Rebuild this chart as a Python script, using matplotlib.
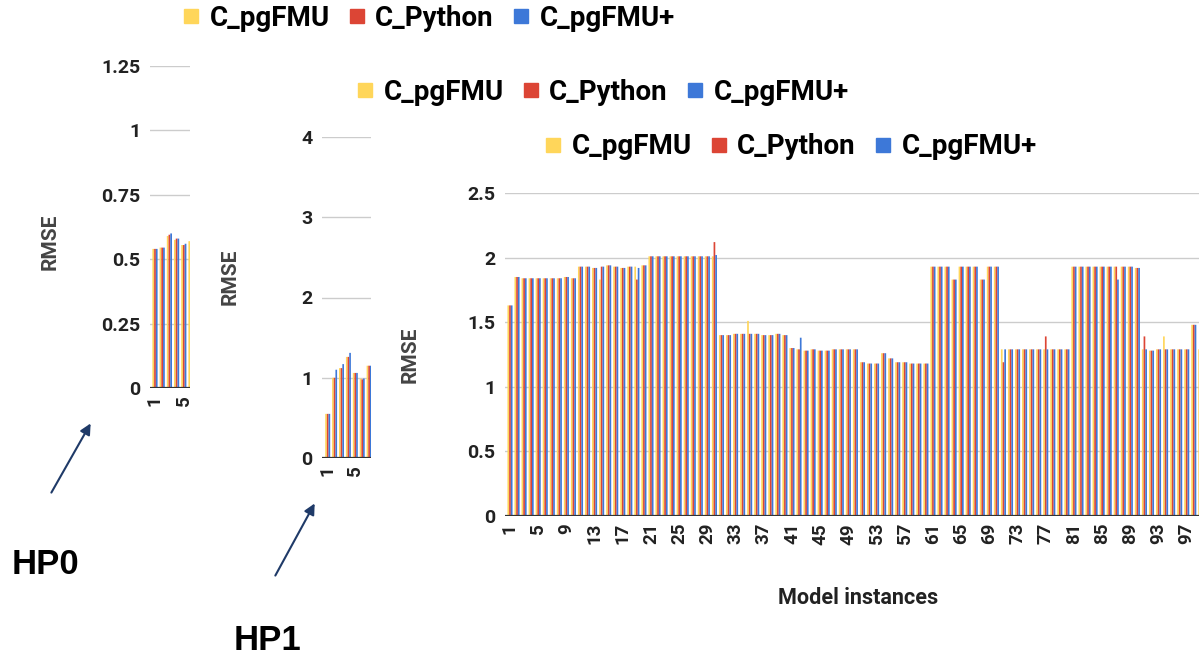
import matplotlib
matplotlib.use('Agg')
import matplotlib.pyplot as plt
from matplotlib.lines import Line2D

plt.rcParams['font.family'] = ['Roboto', 'DejaVu Sans']
plt.rcParams['font.weight'] = 'bold'

W, H = 1199, 661

series = ['C_pgFMU', 'C_Python', 'C_pgFMU+']
colors = ['#ffd65a', '#dc4535', '#3d78d8']

# HP0 panel (only the first instances are visible)
hp0_pgfmu = [0.54, 0.545, 0.59, 0.575, 0.555, 0.57]
hp0_python = [0.54, 0.545, 0.595, 0.58, 0.555, 0.57]
hp0_pgfmu_plus = [0.54, 0.545, 0.60, 0.58, 0.56, 0.57]
hp0_yticks = [0, 0.25, 0.5, 0.75, 1, 1.25]
hp0_ylabels = ['0', '0.25', '0.5', '0.75', '1', '1.25']

# HP1 panel
hp1_pgfmu = [0.55, 1.0, 1.12, 1.26, 1.06, 0.99, 1.15]
hp1_python = [0.55, 1.0, 1.12, 1.26, 1.06, 0.98, 1.15]
hp1_pgfmu_plus = [0.55, 1.1, 1.17, 1.31, 1.06, 0.99, 1.15]
hp1_yticks = [0, 1, 2, 3, 4]
hp1_ylabels = ['0', '1', '2', '3', '4']

# main panel, model instances 1..99
main_python = [
    1.63, 1.85, 1.84, 1.84, 1.84, 1.84, 1.84, 1.84, 1.85, 1.84,
    1.93, 1.93, 1.92, 1.93, 1.94, 1.93, 1.92, 1.93, 1.83, 1.94,
    2.01, 2.01, 2.01, 2.01, 2.01, 2.01, 2.01, 2.01, 2.01, 2.12,
    1.40, 1.40, 1.41, 1.41, 1.41, 1.41, 1.40, 1.40, 1.41, 1.40,
    1.30, 1.29, 1.28, 1.29, 1.28, 1.28, 1.29, 1.29, 1.29, 1.29,
    1.19, 1.18, 1.18, 1.26, 1.22, 1.19, 1.19, 1.18, 1.18, 1.18,
    1.93, 1.93, 1.93, 1.83, 1.93, 1.93, 1.93, 1.83, 1.93, 1.93,
    1.19, 1.29, 1.29, 1.29, 1.29, 1.29, 1.39, 1.29, 1.29, 1.29,
    1.93, 1.93, 1.93, 1.93, 1.93, 1.93, 1.93, 1.93, 1.93, 1.92,
    1.39, 1.28, 1.29, 1.29, 1.29, 1.29, 1.29, 1.48, 1.29]
main_pgfmu = [
    1.63, 1.85, 1.84, 1.84, 1.84, 1.84, 1.84, 1.84, 1.85, 1.84,
    1.93, 1.93, 1.92, 1.83, 1.94, 1.93, 1.92, 1.93, 1.93, 1.94,
    2.01, 2.01, 2.01, 2.01, 2.01, 2.01, 2.01, 2.01, 2.01, 2.01,
    1.40, 1.40, 1.41, 1.41, 1.51, 1.41, 1.40, 1.40, 1.41, 1.40,
    1.30, 1.29, 1.28, 1.29, 1.28, 1.28, 1.29, 1.29, 1.29, 1.29,
    1.19, 1.18, 1.18, 1.26, 1.22, 1.19, 1.19, 1.18, 1.18, 1.18,
    1.93, 1.93, 1.93, 1.83, 1.93, 1.93, 1.93, 1.83, 1.93, 1.93,
    1.29, 1.29, 1.29, 1.29, 1.29, 1.29, 1.29, 1.29, 1.29, 1.29,
    1.93, 1.93, 1.93, 1.93, 1.93, 1.93, 1.93, 1.93, 1.93, 1.92,
    1.29, 1.28, 1.29, 1.39, 1.29, 1.29, 1.29, 1.48, 1.29]
main_pgfmu_plus = [
    1.63, 1.85, 1.84, 1.84, 1.84, 1.84, 1.84, 1.84, 1.85, 1.84,
    1.93, 1.93, 1.92, 1.93, 1.94, 1.93, 1.92, 1.93, 1.92, 1.94,
    2.01, 2.01, 2.01, 2.01, 2.01, 2.01, 2.01, 2.01, 2.01, 2.02,
    1.40, 1.40, 1.41, 1.41, 1.41, 1.41, 1.40, 1.40, 1.41, 1.40,
    1.30, 1.38, 1.28, 1.29, 1.28, 1.28, 1.29, 1.29, 1.29, 1.29,
    1.19, 1.18, 1.18, 1.26, 1.22, 1.19, 1.19, 1.18, 1.18, 1.18,
    1.93, 1.93, 1.93, 1.83, 1.93, 1.93, 1.93, 1.83, 1.93, 1.93,
    1.29, 1.29, 1.29, 1.29, 1.29, 1.29, 1.29, 1.29, 1.29, 1.29,
    1.93, 1.93, 1.93, 1.93, 1.93, 1.93, 1.83, 1.93, 1.93, 1.92,
    1.29, 1.28, 1.29, 1.29, 1.29, 1.29, 1.29, 1.48, 1.29]
main_yticks = [0, 0.5, 1, 1.5, 2, 2.5]
main_ylabels = ['0', '0.5', '1', '1.5', '2', '2.5']

fig = plt.figure(figsize=(W / 100, H / 100), dpi=100)


def px(x0, y0, x1, y1):
    # pixel box (top-left origin) -> figure fraction rect
    return [x0 / W, 1 - y1 / H, (x1 - x0) / W, (y1 - y0) / H]


def panel(rect, data, yticks, ylabels, xlim, legend_xy, ylabel_xy):
    ax = fig.add_axes(rect)
    n = max(len(d) for d in data)
    bw = 0.24
    for k, (vals, c) in enumerate(zip(data, colors)):
        xs = [i + 1 + (k - 1) * bw for i in range(len(vals))]
        ax.bar(xs, vals, width=bw, color=c, linewidth=0, zorder=2, snap=False)
    ax.set_ylim(yticks[0], yticks[-1])
    ax.set_xlim(*xlim)
    ax.set_yticks(yticks)
    ax.set_yticklabels(ylabels)
    xt = list(range(1, n + 1, 4))
    ax.set_xticks(xt)
    ax.set_xticklabels([str(t) for t in xt], rotation=90)
    ax.grid(axis='y', color='#cccccc', lw=1.0, zorder=0)
    ax.set_axisbelow(True)
    ax.axhline(0, color='#333333', lw=1.6, zorder=3)
    for s in ax.spines.values():
        s.set_visible(False)
    ax.tick_params(axis='y', length=0, pad=7, labelsize=14, labelcolor='#222222')
    ax.tick_params(axis='x', length=0, pad=5, labelsize=13.5, labelcolor='#222222')
    ax.patch.set_alpha(0)
    handles = [Line2D([], [], marker='s', ls='none', ms=10.5, color=c) for c in colors]
    ax.legend(handles, series, loc='center left',
              bbox_to_anchor=(legend_xy[0] / W, 1 - legend_xy[1] / H),
              bbox_transform=fig.transFigure, ncol=3, frameon=False,
              fontsize=20, handlelength=0.55, handletextpad=0.4,
              columnspacing=0.7, borderpad=0, borderaxespad=0)
    fig.text(ylabel_xy[0] / W, 1 - ylabel_xy[1] / H, 'RMSE', rotation=90,
             ha='center', va='center', fontsize=15, color='#444444')
    return ax


panel(px(150, 66, 190, 388), [hp0_pgfmu, hp0_python, hp0_pgfmu_plus],
      hp0_yticks, hp0_ylabels, (0.306, 5.86), (183, 18), (50, 242))
panel(px(322, 137, 370.5, 458), [hp1_pgfmu, hp1_python, hp1_pgfmu_plus],
      hp1_yticks, hp1_ylabels, (0.174, 7.2), (357, 92), (230, 277))
panel(px(505, 193, 1210, 516), [main_pgfmu, main_python, main_pgfmu_plus],
      main_yticks, main_ylabels, (0.291, 100.3), (545, 147), (410, 355))
fig.text(858 / W, 1 - 598 / H, 'Model instances', ha='center', va='center',
         fontsize=15.5, color='#222222')

# overlay in pixel coords (top-left origin) for arrows and HP labels
ov = fig.add_axes([0, 0, 1, 1])
ov.set_xlim(0, W)
ov.set_ylim(H, 0)
ov.axis('off')
arrow = dict(arrowstyle='-|>', color='#1f3a68', lw=1.5, mutation_scale=16)
ov.annotate('', xy=(92, 421), xytext=(50, 495), arrowprops=arrow)
ov.annotate('', xy=(316, 501), xytext=(274, 578), arrowprops=arrow)
ov.text(45, 565, 'HP0', ha='center', va='center', fontsize=25,
        family=['Liberation Sans', 'DejaVu Sans'], fontweight='bold', color='black')
ov.text(268, 640, 'HP1', ha='center', va='center', fontsize=25,
        family=['Liberation Sans', 'DejaVu Sans'], fontweight='bold', color='black')

fig.savefig('out.png', dpi=100)
